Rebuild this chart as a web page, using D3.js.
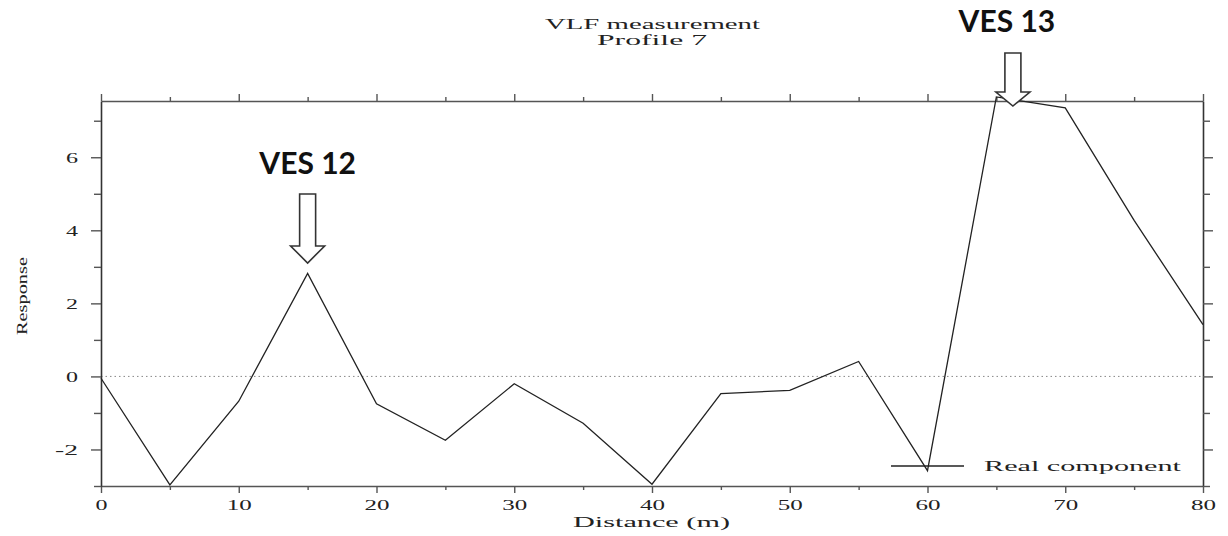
<!DOCTYPE html>
<html><head><meta charset="utf-8">
<script src="https://cdn.jsdelivr.net/npm/d3@7"></script>
<style>body{margin:0;background:#fff}svg{display:block}</style>
</head><body>
<script>
const distances = [0,5,10,15,20,25,30,35,40,45,50,55,60,65,70,75,80];
const realComponent = [-0.05,-2.97,-0.68,2.82,-0.75,-1.75,-0.2,-1.28,-2.95,-0.47,-0.38,0.41,-2.58,7.65,7.35,4.27,1.42];
const xTicks = [0,10,20,30,40,50,60,70,80];
const xMinorTicks = [5,15,25,35,45,55,65,75];
const yTicks = [-2,0,2,4,6];
const yMinorTicks = [-3,-1,1,3,5,7];
const annotations = [{label:"VES 12", x:15}, {label:"VES 13", x:66.2}];

(function(){
const W=1228,H=536;
const svg=d3.select("body").append("svg").attr("width",W).attr("height",H);
const x=d3.scaleLinear().domain([0,80]).range([101,1203]);
const y=d3.scaleLinear().domain([-3,7.54]).range([486,101]);
const serif="'Liberation Serif','DejaVu Serif',serif";
const axisCol="#555";
const fmt=d=>String(d);

svg.append("line").attr("x1",x(0)).attr("x2",x(80)).attr("y1",y(0)).attr("y2",y(0))
  .attr("stroke","#888").attr("stroke-width",1).attr("stroke-dasharray","1.5,3");

function styleAxis(g){g.select(".domain").attr("stroke",axisCol).attr("stroke-width",1.6);
  g.selectAll(".tick line").attr("stroke",axisCol).attr("stroke-width",1.4);
  g.selectAll("text").attr("font-family",serif).attr("font-size",15).attr("fill","#222")
   .attr("lengthAdjust","spacingAndGlyphs")
   .attr("textLength",function(){const t=this.textContent;return t.length===1?12:(t[0]==="-"?23:25);});}
const gBottom=svg.append("g").attr("transform",`translate(0,${y(-3)})`)
  .call(d3.axisBottom(x).tickValues(xTicks).tickSize(7).tickSizeOuter(0).tickPadding(6).tickFormat(fmt));
styleAxis(gBottom);
svg.append("g").attr("transform",`translate(0,${y(-3)})`).call(d3.axisBottom(x).tickValues(xMinorTicks).tickSize(4).tickFormat("")).call(g=>{g.select(".domain").remove();styleAxis(g);});
const gTop=svg.append("g").attr("transform",`translate(0,${y(7.54)})`)
  .call(d3.axisTop(x).tickValues(xTicks).tickSize(7).tickSizeOuter(0).tickFormat(""));
styleAxis(gTop);
svg.append("g").attr("transform",`translate(0,${y(7.54)})`).call(d3.axisTop(x).tickValues(xMinorTicks).tickSize(4).tickFormat("")).call(g=>{g.select(".domain").remove();styleAxis(g);});
const gLeft=svg.append("g").attr("transform",`translate(${x(0)},0)`)
  .call(d3.axisLeft(y).tickValues(yTicks).tickSize(10).tickSizeOuter(0).tickPadding(13).tickFormat(fmt));
styleAxis(gLeft); gLeft.select(".domain").attr("stroke","#333");
svg.append("g").attr("transform",`translate(${x(0)},0)`).call(d3.axisLeft(y).tickValues(yMinorTicks).tickSize(7).tickFormat("")).call(g=>{g.select(".domain").remove();styleAxis(g);});
const gRight=svg.append("g").attr("transform",`translate(${x(80)},0)`)
  .call(d3.axisRight(y).tickValues(yTicks).tickSize(10).tickSizeOuter(0).tickFormat(""));
styleAxis(gRight); gRight.select(".domain").attr("stroke","#333");
svg.append("g").attr("transform",`translate(${x(80)},0)`).call(d3.axisRight(y).tickValues(yMinorTicks).tickSize(7).tickFormat("")).call(g=>{g.select(".domain").remove();styleAxis(g);});

svg.append("path").datum(distances.map((d,i)=>[d,realComponent[i]]))
  .attr("d",d3.line().x(d=>x(d[0])).y(d=>y(d[1])))
  .attr("fill","none").attr("stroke","#222").attr("stroke-width",1.3);

function label(txt,xx,yy,len,opts){
  const t=svg.append("text").attr("x",xx).attr("y",yy).attr("font-family",serif).attr("font-size",15)
    .attr("fill","#222").attr("textLength",len).attr("lengthAdjust","spacingAndGlyphs").text(txt);
  if(opts&&opts.anchor)t.attr("text-anchor",opts.anchor);
  return t;
}
label("VLF measurement",545,29,215);
label("Profile 7",597,45,110);
label("Distance (m)",573,527,157);
svg.append("text").attr("transform",`translate(27,335) rotate(-90)`).attr("font-family",serif)
  .attr("font-size",15).attr("fill","#222").attr("textLength",78).attr("lengthAdjust","spacingAndGlyphs").text("Response");

svg.append("line").attr("x1",891).attr("x2",964).attr("y1",466).attr("y2",466).attr("stroke","#222").attr("stroke-width",1.3);
label("Real component",984,471,197);

const annGeom=[{tipY:263,shaftTop:194,labelY:174,labelDx:0,headH:17},{tipY:106,shaftTop:53,labelY:32,labelDx:-6,headH:14}];
annotations.forEach((a,i)=>{
  const g=annGeom[i]; const cx=x(a.x);
  const sw=8, hw=17;
  const hy=g.tipY-g.headH;
  const pts=[[cx-sw,g.shaftTop],[cx+sw,g.shaftTop],[cx+sw,hy],[cx+hw,hy],[cx,g.tipY],[cx-hw,hy],[cx-sw,hy]];
  svg.append("path").attr("d",d3.line()(pts)+"Z").attr("fill","#fff").attr("stroke","#333").attr("stroke-width",1.6);
  svg.append("text").attr("x",cx+g.labelDx).attr("y",g.labelY).attr("text-anchor","middle")
    .attr("font-family","Lato,'Open Sans',sans-serif").attr("font-weight","bold").attr("font-size",30)
    .attr("fill","#111").text(a.label);
});
})();
</script>
</body></html>
